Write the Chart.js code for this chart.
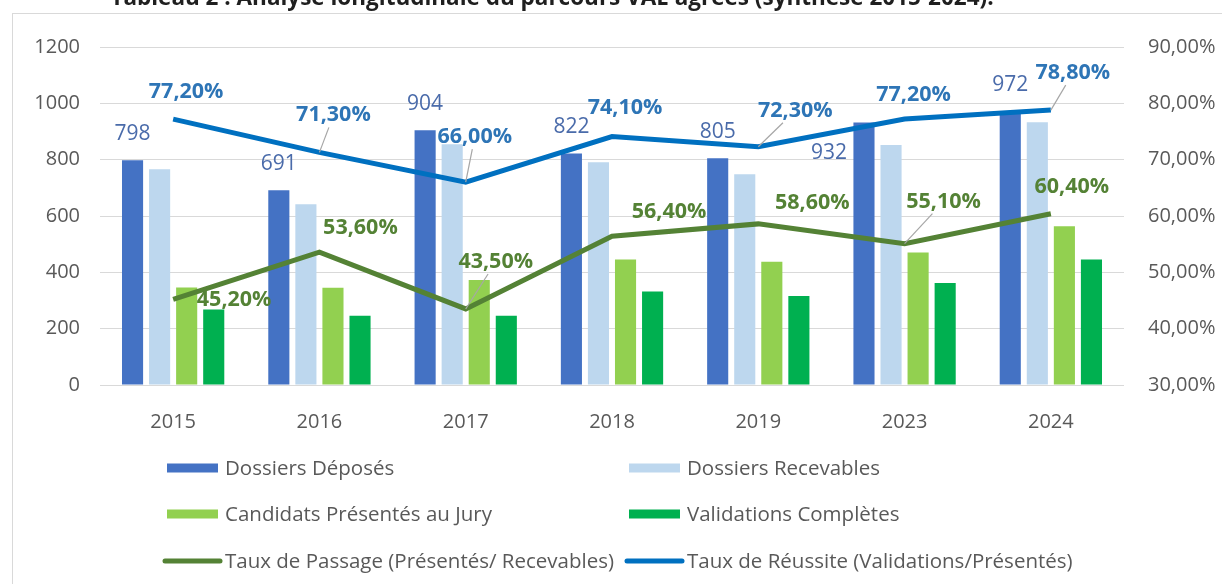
<!DOCTYPE html>
<html>
<head>
<meta charset="utf-8">
<script src="https://cdn.jsdelivr.net/npm/chart.js@4"></script>
<style>
  body { margin: 0; background: #fff; }
  #wrap { position: relative; width: 1222px; height: 584px; }
</style>
</head>
<body>
<div id="wrap"><canvas id="myChart"></canvas></div>
<script>
// données
const years = ['2015', '2016', '2017', '2018', '2019', '2023', '2024'];
const dossiersDeposes = [798, 691, 904, 822, 805, 932, 972];
const dossiersRecevables = [766, 642, 855, 791, 748, 852, 933];
const candidatsPresentes = [346, 345, 373, 446, 438, 470, 564];
const validationsCompletes = [268, 246, 246, 332, 316, 362, 446];
const tauxPassage = [45.2, 53.6, 43.5, 56.4, 58.6, 55.1, 60.4];
const tauxReussite = [77.2, 71.3, 66.0, 74.1, 72.3, 77.2, 78.8];

const title = 'Tableau 2 : Analyse longitudinale du parcours VAE agréés (synthèse 2015-2024).';

// décalages des étiquettes (px) par rapport au point, comme dans l'original
const barLabelOffsets = [[0, -26], [0, -26], [0, -26], [0, -26], [0, -26], [-35, 31], [0, -26]];
const passageLabelOffsets = [[61, 1], [41, -24], [30, -47], [57, -24], [54, -21], [39, -42], [21, -27]];
const passageLeaders = [false, false, true, false, false, true, false];
const reussiteLabelOffsets = [[13, -27], [14, -37], [9, -45], [13, -29], [37, -36], [9, -24], [22, -37]];
const reussiteLeaders = [false, true, true, false, true, false, true];

const FONT = '"Open Sans"';
const pct = v => v.toFixed(2).replace('.', ',') + '%';

const labelsPlugin = {
    id: 'labelsPlugin',
    beforeDraw(chart) {
        const ctx = chart.ctx;
        ctx.save();
        ctx.strokeStyle = '#D9D9D9';
        ctx.lineWidth = 1;
        ctx.strokeRect(12.5, 13.5, 1400, 800);
        ctx.fillStyle = '#1F1F1F';
        ctx.font = 'bold 22.5px ' + FONT;
        ctx.textAlign = 'center';
        ctx.textBaseline = 'alphabetic';
        ctx.fillText(title, 552, 5);
        ctx.restore();
    },
    afterDatasetsDraw(chart) {
        const ctx = chart.ctx;
        ctx.save();
        ctx.textAlign = 'center';
        ctx.textBaseline = 'middle';

        // valeurs des dossiers déposés
        ctx.font = '21px ' + FONT;
        ctx.fillStyle = '#4A6BAA';
        chart.getDatasetMeta(0).data.forEach((bar, i) => {
            const o = barLabelOffsets[i];
            ctx.fillText(String(dossiersDeposes[i]), bar.x + o[0], bar.y + o[1]);
        });

        // taux
        const drawRates = (dsIndex, values, offsets, leaders, color) => {
            ctx.font = 'bold 21.5px ' + FONT;
            chart.getDatasetMeta(dsIndex).data.forEach((pt, i) => {
                const lx = pt.x + offsets[i][0];
                const ly = pt.y + offsets[i][1];
                if (leaders[i]) {
                    const endY = ly + 12;
                    const t = (pt.y - endY) / (pt.y - ly);
                    ctx.strokeStyle = '#A6A6A6';
                    ctx.lineWidth = 1.2;
                    ctx.beginPath();
                    ctx.moveTo(pt.x, pt.y);
                    ctx.lineTo(pt.x + (lx - pt.x) * t, endY);
                    ctx.stroke();
                }
                ctx.fillStyle = color;
                ctx.fillText(pct(values[i]), lx, ly);
            });
        };
        drawRates(4, tauxPassage, passageLabelOffsets, passageLeaders, '#548235');
        drawRates(5, tauxReussite, reussiteLabelOffsets, reussiteLeaders, '#2E75B6');
        ctx.restore();
    },
    afterDraw(chart) {
        // légende sur deux colonnes
        const ctx = chart.ctx;
        const cols = [167, 629];
        const rows = [468, 514, 561];
        ctx.save();
        ctx.font = '20.5px ' + FONT;
        ctx.textBaseline = 'middle';
        ctx.textAlign = 'left';
        chart.data.datasets.forEach((ds, i) => {
            const x = cols[i % 2];
            const y = rows[Math.floor(i / 2)];
            if (ds.type === 'line') {
                ctx.strokeStyle = ds.borderColor;
                ctx.lineWidth = 5;
                ctx.lineCap = 'round';
                ctx.beginPath();
                ctx.moveTo(x - 2, y);
                ctx.lineTo(x + 53, y);
                ctx.stroke();
            } else {
                ctx.fillStyle = ds.backgroundColor;
                ctx.fillRect(x, y - 4.5, 51, 9);
            }
            ctx.fillStyle = '#595959';
            ctx.fillText(ds.label, x + 58, y + 1);
        });
        ctx.restore();
    }
};

const ctx = document.getElementById('myChart').getContext('2d');
new Chart(ctx, {
    data: {
        labels: years,
        datasets: [
            { type: 'bar', label: 'Dossiers Déposés', data: dossiersDeposes, backgroundColor: '#4472C4', yAxisID: 'y', order: 2 },
            { type: 'bar', label: 'Dossiers Recevables', data: dossiersRecevables, backgroundColor: '#BDD7EE', yAxisID: 'y', order: 2 },
            { type: 'bar', label: 'Candidats Présentés au Jury', data: candidatsPresentes, backgroundColor: '#92D050', yAxisID: 'y', order: 2 },
            { type: 'bar', label: 'Validations Complètes', data: validationsCompletes, backgroundColor: '#00B050', yAxisID: 'y', order: 2 },
            { type: 'line', label: 'Taux de Passage (Présentés/ Recevables)', data: tauxPassage, borderColor: '#548235', backgroundColor: '#548235', borderWidth: 5, pointRadius: 0, tension: 0, yAxisID: 'y1', order: 1 },
            { type: 'line', label: 'Taux de Réussite (Validations/Présentés)', data: tauxReussite, borderColor: '#0070C0', backgroundColor: '#0070C0', borderWidth: 5, pointRadius: 0, tension: 0, yAxisID: 'y1', order: 0 }
        ]
    },
    options: {
        responsive: true,
        maintainAspectRatio: false,
        animation: false,
        layout: { padding: { top: 47, left: 0, right: 0, bottom: 0 } },
        datasets: {
            bar: { categoryPercentage: 0.74, barPercentage: 0.78 }
        },
        plugins: {
            legend: { display: false },
            tooltip: { enabled: false }
        },
        scales: {
            x: {
                grid: { display: false },
                border: { display: false },
                ticks: { color: '#595959', font: { family: FONT, size: 20 }, padding: 17 },
                afterFit: s => { s.height = 199; }
            },
            y: {
                position: 'left',
                min: 0,
                max: 1200,
                ticks: { stepSize: 200, color: '#595959', font: { family: FONT, size: 20 }, padding: 20, callback: v => String(v) },
                grid: { color: '#D9D9D9', lineWidth: 1, drawTicks: false },
                border: { display: false },
                afterFit: s => { s.width = 100; }
            },
            y1: {
                position: 'right',
                min: 30,
                max: 90,
                ticks: { stepSize: 10, color: '#595959', font: { family: FONT, size: 20 }, padding: 24, callback: v => pct(v) },
                grid: { display: false, drawTicks: false },
                border: { display: false },
                afterFit: s => { s.width = 98; }
            }
        }
    },
    plugins: [labelsPlugin]
});
</script>
</body>
</html>
